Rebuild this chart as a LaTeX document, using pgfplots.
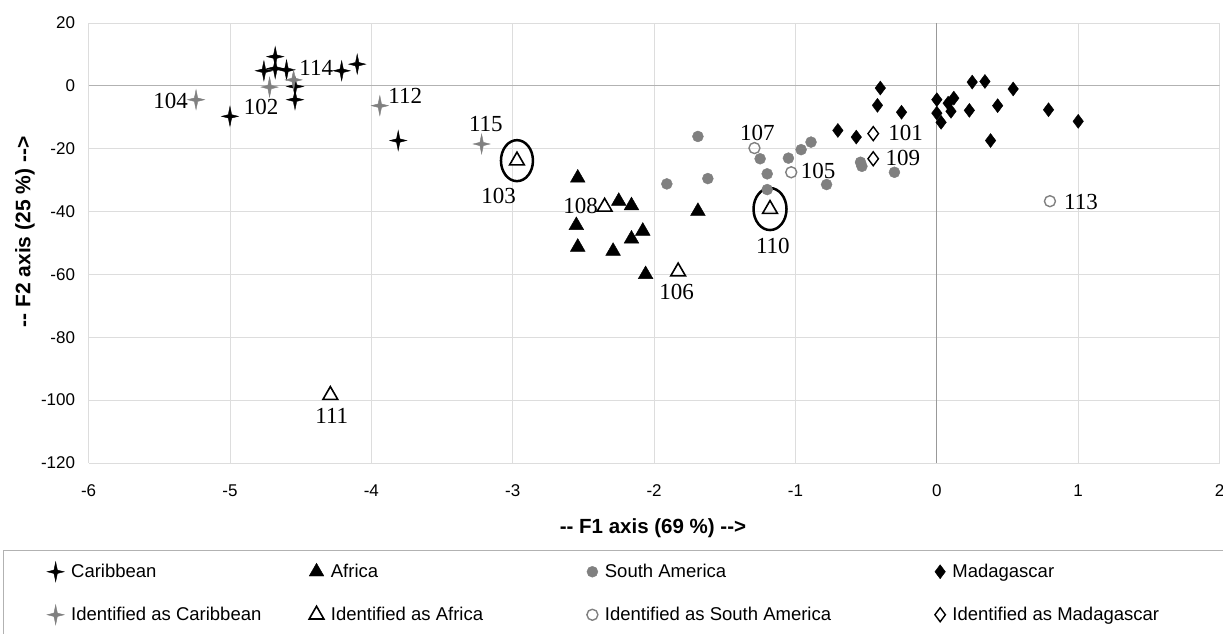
\documentclass[border=0pt]{standalone}
\usepackage{pgfplots}
\pgfplotsset{compat=1.18}
\usepackage{fontspec}
\setmainfont{Liberation Sans}
\newfontfamily\seriffont{Liberation Serif}

\pgfdeclareplotmark{cstar}{%
  \pgfpathmoveto{\pgfqpoint{0pt}{\pgfplotmarksize}}%
  \pgfpathlineto{\pgfqpoint{0.17\pgfplotmarksize}{0.17\pgfplotmarksize}}%
  \pgfpathlineto{\pgfqpoint{0.85\pgfplotmarksize}{0pt}}%
  \pgfpathlineto{\pgfqpoint{0.17\pgfplotmarksize}{-0.17\pgfplotmarksize}}%
  \pgfpathlineto{\pgfqpoint{0pt}{-\pgfplotmarksize}}%
  \pgfpathlineto{\pgfqpoint{-0.17\pgfplotmarksize}{-0.17\pgfplotmarksize}}%
  \pgfpathlineto{\pgfqpoint{-0.85\pgfplotmarksize}{0pt}}%
  \pgfpathlineto{\pgfqpoint{-0.17\pgfplotmarksize}{0.17\pgfplotmarksize}}%
  \pgfpathclose
  \pgfusepathqfillstroke
}

\definecolor{mgray}{HTML}{808080}
\definecolor{gridc}{HTML}{DDDDDD}

\newcommand{\lbl}[3]{\node[font=\seriffont\fontsize{23}{25}\selectfont, inner sep=0pt] at (axis cs:#1,#2) {#3};}

\begin{document}
\begin{tikzpicture}
\useasboundingbox (0pt,0pt) rectangle (1223pt,634pt);
\begin{axis}[
  at={(88.6pt,171pt)}, anchor=south west,
  scale only axis, width=1131pt, height=440pt,
  xmin=-6, xmax=2, ymin=-120, ymax=20,
  xtick={-6,-5,...,2}, ytick={-120,-100,...,20},
  grid=major, major grid style={gridc, line width=0.8pt},
  axis line style={draw=none},
  tick style={draw=none},
  tick label style={font=\fontsize{17}{19}\selectfont},
  /pgf/number format/assume math mode=true,
  xticklabel style={yshift=-18pt},
  yticklabel style={xshift=-10pt},
  xlabel={-{}- F1 axis (69 \%) -{}-{}>},
  ylabel={-{}- F2 axis (25 \%) -{}-{}>},
  every axis x label/.style={at={(axis description cs:0.499,-0.148)}, anchor=center, font=\bfseries\fontsize{20.5}{22}\selectfont},
  every axis y label/.style={at={(axis description cs:-0.0562,0.525)}, rotate=90, anchor=center, font=\bfseries\fontsize{21}{23}\selectfont},
  legend columns=4,
  legend cell align=left,
  legend style={at={(axis description cs:-0.0368,-0.224)}, anchor=north west,
    draw=none, fill=none, inner sep=0pt, column sep=0pt, row sep=23pt,
    font=\fontsize{18.5}{20}\selectfont, nodes={inner xsep=7pt, inner ysep=2pt}},
]
% Caribbean
\addplot[only marks, mark=cstar, mark size=10pt, draw=black, fill=black, mark options={line width=0.4pt}] coordinates {
(-4.68,9.3) (-4.76,4.8) (-4.60,5.1) (-4.68,5.5) (-4.54,-0.2) (-4.54,-4.4)
(-4.21,4.8) (-4.10,6.9) (-5.00,-9.7) (-3.81,-17.4)};
\addlegendentry{\makebox[231pt][l]{Caribbean}}
% Africa
\addplot[only marks, mark=triangle*, mark size=8.5pt, draw=black, fill=black] coordinates {
(-2.54,-29.3) (-2.25,-36.7) (-2.16,-38.1) (-2.55,-44.4) (-2.08,-46.2)
(-2.16,-48.7) (-2.54,-51.3) (-2.29,-52.6) (-2.06,-60.0) (-1.69,-39.9)};
\addlegendentry{\makebox[249pt][l]{Africa}}
% South America
\addplot[only marks, mark=*, mark size=5.5pt, draw=mgray, fill=mgray] coordinates {
(-1.69,-16.1) (-1.91,-31.2) (-1.62,-29.5) (-1.25,-23.2) (-1.20,-28.0)
(-1.20,-33.0) (-1.05,-23.0) (-0.96,-20.3) (-0.89,-17.9) (-0.78,-31.4)
(-0.54,-24.3) (-0.53,-25.6) (-0.30,-27.5)};
\addlegendentry{\makebox[323pt][l]{South America}}
% Madagascar
\addplot[only marks, mark=diamond*, mark size=7pt, draw=black, fill=black] coordinates {
(-0.40,-0.7) (-0.42,-6.2) (-0.25,-8.4) (-0.70,-14.2) (-0.57,-16.3)
(0.00,-4.4) (0.00,-8.7) (0.03,-11.6) (0.12,-3.9) (0.10,-8.1) (0.08,-5.5)
(0.23,-7.8) (0.25,1.2) (0.34,1.4) (0.54,-1.0) (0.43,-6.3) (0.38,-17.4)
(0.79,-7.6) (1.00,-11.3)};
\addlegendentry{\makebox[200pt][l]{Madagascar}}
% Identified as Caribbean
\addplot[only marks, mark=cstar, mark size=10pt, draw=mgray, fill=mgray] coordinates {
(-5.24,-4.4) (-4.72,-0.4) (-4.55,1.9) (-3.94,-6.3) (-3.22,-18.5)};
\addlegendentry{\makebox[231pt][l]{Identified as Caribbean}}
% Identified as Africa
\addplot[only marks, mark=triangle, mark size=8.5pt, draw=black, fill=white, mark options={line width=1.6pt}] coordinates {
(-2.35,-38.5) (-1.83,-59.1) (-2.97,-23.8) (-1.18,-39.2) (-4.29,-98.4)};
\addlegendentry{\makebox[249pt][l]{Identified as Africa}}
% Identified as South America
\addplot[only marks, mark=o, mark size=5.5pt, draw=mgray, fill=white, mark options={line width=1.4pt}] coordinates {
(-1.29,-19.8) (-1.03,-27.5) (0.80,-36.7)};
\addlegendentry{\makebox[323pt][l]{Identified as South America}}
% Identified as Madagascar
\addplot[only marks, mark=diamond, mark size=7pt, draw=black, fill=white, mark options={line width=1.4pt}] coordinates {
(-0.45,-15.2) (-0.45,-23.2)};
\addlegendentry{\makebox[200pt][l]{Identified as Madagascar}}

% zero lines
\draw[gray!80, line width=1pt] (axis cs:0,-120) -- (axis cs:0,20);
\draw[gray!60, line width=1pt] (axis cs:-6,0) -- (axis cs:2,0);
% circled samples
\draw[line width=2.5pt] (axis cs:-2.97,-23.8) ellipse [x radius=16pt, y radius=20.5pt];
\draw[line width=2.5pt] (axis cs:-1.18,-39.2) ellipse [x radius=16.5pt, y radius=21pt];
% labels
\lbl{-5.42}{-4.8}{104}
\lbl{-4.78}{-6.6}{102}
\lbl{-4.39}{5.7}{114}
\lbl{-3.76}{-3.2}{112}
\lbl{-3.19}{-12.1}{115}
\lbl{-3.10}{-34.9}{103}
\lbl{-2.52}{-38.1}{108}
\lbl{-1.84}{-65.7}{106}
\lbl{-1.16}{-50.8}{110}
\lbl{-1.27}{-14.9}{107}
\lbl{-0.84}{-27.0}{105}
\lbl{-0.22}{-14.9}{101}
\lbl{-0.24}{-22.9}{109}
\lbl{1.02}{-37.1}{113}
\lbl{-4.28}{-105.1}{111}
\end{axis}
\draw[gray!60, line width=1pt] (3pt,-3pt) rectangle (1228pt,83pt);
\end{tikzpicture}
\end{document}
